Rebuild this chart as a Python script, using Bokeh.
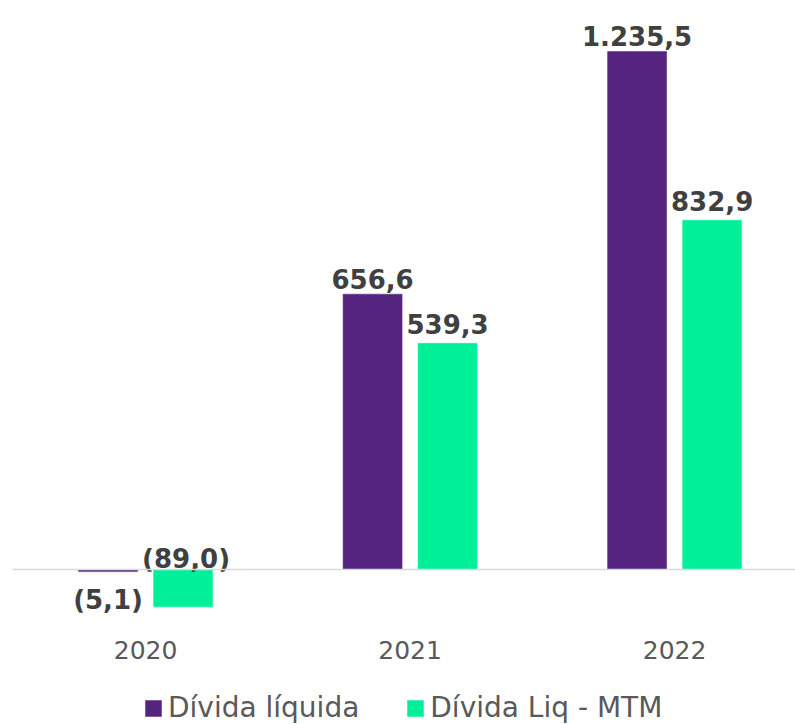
from bokeh.plotting import figure
from bokeh.models import (Range1d, Span, Legend, LegendItem, ColumnDataSource)
from bokeh.core.properties import value
from bokeh.embed import file_html
from bokeh.resources import INLINE

# ---- data ----
years = ["2020", "2021", "2022"]
divida_liquida = [-5.1, 656.6, 1235.5]
divida_liq_mtm = [-89.0, 539.3, 832.9]

PURPLE = "#54247F"
GREEN = "#00F09A"
LABEL_COLOR = "#404040"
AXIS_COLOR = "#595959"
FONT = "DejaVu Sans"


def fmt(v):
    s = f"{abs(v):,.1f}".replace(",", "X").replace(".", ",").replace("X", ".")
    return f"({s})" if v < 0 else s


xs = list(range(len(years)))
off = 0.1418
bw = 0.223

p = figure(width=795, height=724, frame_width=783, frame_height=724,
           x_range=Range1d(-0.503, 2.457), y_range=Range1d(-369.7, 1357),
           output_backend="svg", toolbar_location=None,
           x_axis_location=None, y_axis_location=None,
           min_border_left=12, min_border_right=0, min_border_top=0,
           min_border_bottom=0)
p.outline_line_color = None
p.xgrid.visible = False
p.ygrid.visible = False
p.background_fill_color = "white"
p.border_fill_color = "white"

x1 = [x - off for x in xs]
x2 = [x + off for x in xs]

r1 = p.vbar(x=x1, top=divida_liquida, bottom=0, width=bw,
            fill_color=PURPLE, line_color=PURPLE, line_width=0.5)
r2 = p.vbar(x=x2, top=divida_liq_mtm, bottom=0, width=bw,
            fill_color=GREEN, line_color=GREEN, line_width=0.5)

p.add_layout(Span(location=0, dimension="width", line_color="#d9d9d9",
                  line_width=1.5))

# value labels
common = dict(text="t", text_align="center",
              text_font=value(FONT), text_font_style="bold",
              text_font_size="26px", text_color=LABEL_COLOR)

pos1 = ColumnDataSource(dict(
    x=[x for x, v in zip(x1, divida_liquida) if v >= 0],
    y=[v for v in divida_liquida if v >= 0],
    t=[fmt(v) for v in divida_liquida if v >= 0]))
neg1 = ColumnDataSource(dict(
    x=[x for x, v in zip(x1, divida_liquida) if v < 0],
    y=[v for v in divida_liquida if v < 0],
    t=[fmt(v) for v in divida_liquida if v < 0]))
pos2 = ColumnDataSource(dict(
    x=[x for x, v in zip(x2, divida_liq_mtm) if v >= 0],
    y=[v for v in divida_liq_mtm if v >= 0],
    t=[fmt(v) for v in divida_liq_mtm if v >= 0]))
neg2 = ColumnDataSource(dict(
    x=[x for x, v in zip(x2, divida_liq_mtm) if v < 0],
    y=[0 for v in divida_liq_mtm if v < 0],
    t=[fmt(v) for v in divida_liq_mtm if v < 0]))

for src, yo, xo in [(pos1, -15, 0), (neg1, 28, 0), (pos2, -19, 0),
                    (neg2, -10, 3)]:
    p.text(x="x", y="y", source=src, text_baseline="alphabetic",
           y_offset=yo, x_offset=xo, **common)

# category (year) labels under the zero line
cat_src = ColumnDataSource(dict(x=xs, y=[0] * len(xs), t=years))
p.text(x="x", y="y", text="t", source=cat_src, text_align="center",
       text_baseline="middle", y_offset=81, text_font=value(FONT),
       text_font_size="25px", text_color=AXIS_COLOR)

legend = Legend(items=[LegendItem(label="Dívida líquida", renderers=[r1]),
                       LegendItem(label="Dívida Liq - MTM", renderers=[r2])],
                orientation="horizontal", location=(131, 0),
                label_text_font=FONT, label_text_font_size="28px",
                label_text_color=AXIS_COLOR, glyph_width=20, glyph_height=20,
                label_standoff=5, spacing=46, padding=4, margin=0,
                border_line_color=None, background_fill_alpha=0)
p.add_layout(legend)

open("out.html", "w").write(file_html(p, INLINE))
